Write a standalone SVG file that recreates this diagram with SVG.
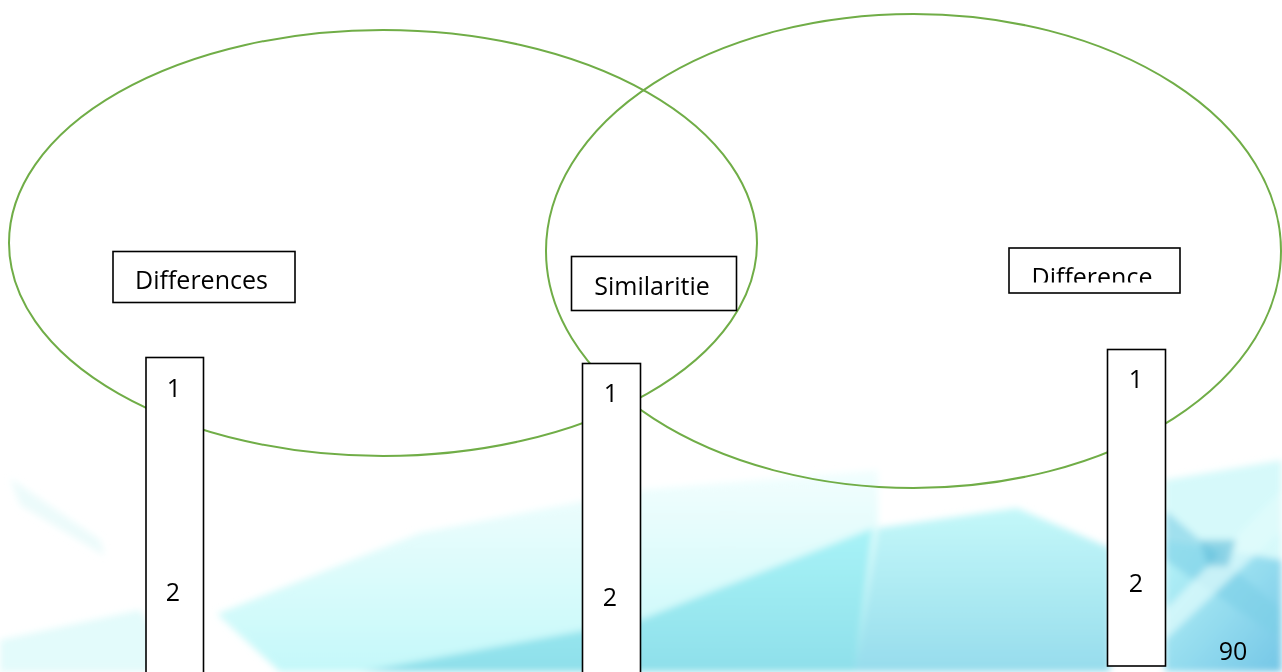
<svg xmlns="http://www.w3.org/2000/svg" width="1282" height="672" viewBox="0 0 1282 672">
<style>
.venn{fill:none;stroke:#70ad47;stroke-width:2}
.box{fill:#ffffff;stroke:#000000;stroke-width:1.6}
.lbl{font-family:"Open Sans","Liberation Sans",sans-serif;font-size:25px;fill:#000000;text-anchor:middle}
</style>
<defs>
<filter id="soft" x="-10%" y="-10%" width="120%" height="120%"><feGaussianBlur stdDeviation="3.5"/></filter>
<linearGradient id="gBR" x1="0" y1="0" x2="1" y2="1">
<stop offset="0" stop-color="#b8f4f8"/>
<stop offset="1" stop-color="#74c6e6"/>
</linearGradient>
<linearGradient id="gMid" x1="0" y1="0" x2="0" y2="1">
<stop offset="0" stop-color="#a8f3f7"/>
<stop offset="1" stop-color="#8edfea"/>
</linearGradient>
<linearGradient id="gLight" x1="0" y1="0" x2="0" y2="1">
<stop offset="0" stop-color="#f2fefe"/>
<stop offset="0.5" stop-color="#dcfbfb"/>
<stop offset="1" stop-color="#c4f8f9"/>
</linearGradient>
<linearGradient id="gRight" x1="0" y1="0" x2="0" y2="1">
<stop offset="0" stop-color="#c4f8f9"/>
<stop offset="1" stop-color="#96dcec"/>
</linearGradient>
<clipPath id="clipDiff"><rect x="1009" y="248" width="171" height="34.5"/></clipPath>
</defs>
<rect width="1282" height="672" fill="#ffffff"/>
<g id="background" filter="url(#soft)">
<path d="M10,478 L100,540 L105,556 L20,505 Z" fill="#e0f9f9" opacity="0.6"/>
<path d="M0,640 L140,610 L180,672 L0,672 Z" fill="#dcfafa" opacity="0.8"/>
<path d="M217,614 L420,533 L640,490 L878,470 L878,672 L280,672 Z" fill="url(#gLight)"/>
<path d="M360,672 L640,620 L873,528 L855,672 Z" fill="url(#gMid)"/>
<path d="M878,528 L1017,508 L1110,548 L1110,672 L855,672 Z" fill="url(#gRight)"/>
<path d="M1165,480 L1282,460 L1282,560 L1165,540 Z" fill="#d2f8fa" opacity="0.9"/>
<path d="M1165,540 L1282,560 L1282,672 L1165,672 Z" fill="url(#gBR)"/>
<path d="M1165,510 L1282,610 L1282,640 L1165,560 Z" fill="#7ccfe6" opacity="0.6"/>
<path d="M1282,490 L1165,610 L1165,640 L1282,530 Z" fill="#e2fcfc" opacity="0.7"/>
<path d="M1200,540 L1236,540 L1228,566 L1208,566 Z" fill="#5fbcd8" opacity="0.6"/>
</g>
<g id="venn">
<ellipse class="venn" cx="383" cy="243" rx="374" ry="213"/>
<ellipse class="venn" cx="913.5" cy="251" rx="367.5" ry="237"/>
</g>
<g id="connectors"></g>
<g id="node-differences-left">
<rect class="box" x="113" y="251.5" width="182" height="51"/>
<text class="lbl" x="201.5" y="289">Differences</text>
</g>
<g id="node-similarities">
<rect class="box" x="571.5" y="256.5" width="165" height="54"/>
<text class="lbl" x="652" y="295">Similaritie</text>
</g>
<g id="node-differences-right">
<rect class="box" x="1009" y="248" width="171" height="45"/>
<text class="lbl" x="1092" y="286" clip-path="url(#clipDiff)">Difference</text>
</g>
<g id="node-list-left">
<rect class="box" x="146" y="357.5" width="57.5" height="330"/>
<text class="lbl" x="174" y="397">1</text>
<text class="lbl" x="173" y="601">2</text>
</g>
<g id="node-list-middle">
<rect class="box" x="582.5" y="363.5" width="58" height="330"/>
<text class="lbl" x="611" y="402">1</text>
<text class="lbl" x="610" y="606">2</text>
</g>
<g id="node-list-right">
<rect class="box" x="1107.5" y="349.5" width="58" height="316.5"/>
<text class="lbl" x="1136" y="388">1</text>
<text class="lbl" x="1136" y="592">2</text>
</g>
<text class="lbl" x="1233" y="660">90</text>
</svg>
